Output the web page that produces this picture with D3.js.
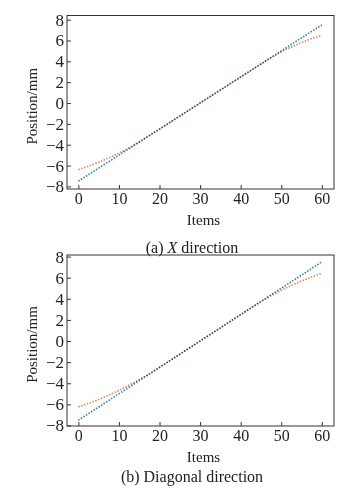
<!DOCTYPE html>
<html>
<head>
<meta charset="utf-8">
<script src="https://cdn.jsdelivr.net/npm/d3@7"></script>
<style>
  body { margin: 0; background: #fff; }
  text { font-family: "Liberation Serif", "Times New Roman", serif; fill: #222; }
</style>
</head>
<body>
<div class="chart"></div>
<script>
// item index 0..60
var items = d3.range(0, 61);

// measured position (blue), both directions
var measuredX = [-7.50,-7.25,-7.00,-6.75,-6.50,-6.25,-6.00,-5.75,-5.50,-5.25,-5.00,-4.75,-4.50,-4.25,-4.00,-3.75,-3.50,-3.25,-3.00,-2.75,
  -2.50,-2.25,-2.00,-1.75,-1.50,-1.25,-1.00,-0.75,-0.50,-0.25,0.00,0.25,0.50,0.75,1.00,1.25,1.50,1.75,2.00,2.25,
  2.50,2.75,3.00,3.25,3.50,3.75,4.00,4.25,4.50,4.75,5.00,5.25,5.50,5.75,6.00,6.25,6.50,6.75,7.00,7.25,7.50];
var fittedX = [-6.40,-6.27,-6.13,-5.99,-5.84,-5.68,-5.52,-5.35,-5.17,-4.99,-4.80,-4.60,-4.40,-4.18,-3.96,-3.73,-3.49,-3.25,-3.00,-2.75,
  -2.50,-2.25,-2.00,-1.75,-1.50,-1.25,-1.00,-0.75,-0.50,-0.25,0.00,0.25,0.50,0.75,1.00,1.25,1.50,1.75,2.00,2.25,
  2.50,2.75,3.00,3.25,3.50,3.75,4.00,4.24,4.47,4.69,4.90,5.10,5.29,5.47,5.64,5.80,5.96,6.11,6.25,6.38,6.50];

var measuredD = [-7.50,-7.25,-7.00,-6.75,-6.50,-6.25,-6.00,-5.75,-5.50,-5.25,-5.00,-4.75,-4.50,-4.25,-4.00,-3.75,-3.50,-3.25,-3.00,-2.75,
  -2.50,-2.25,-2.00,-1.75,-1.50,-1.25,-1.00,-0.75,-0.50,-0.25,0.00,0.25,0.50,0.75,1.00,1.25,1.50,1.75,2.00,2.25,
  2.50,2.75,3.00,3.25,3.50,3.75,4.00,4.25,4.50,4.75,5.00,5.25,5.50,5.75,6.00,6.25,6.50,6.75,7.00,7.25,7.50];
var fittedD = [-6.25,-6.12,-5.98,-5.84,-5.69,-5.54,-5.38,-5.21,-5.04,-4.86,-4.67,-4.48,-4.28,-4.07,-3.86,-3.65,-3.44,-3.22,-3.00,-2.75,
  -2.50,-2.25,-2.00,-1.75,-1.50,-1.25,-1.00,-0.75,-0.50,-0.25,0.00,0.25,0.50,0.75,1.00,1.25,1.50,1.75,2.00,2.25,
  2.50,2.75,3.00,3.25,3.49,3.72,3.95,4.17,4.39,4.60,4.80,4.99,5.17,5.35,5.52,5.68,5.84,5.99,6.13,6.27,6.40];

var xTicks = [0, 10, 20, 30, 40, 50, 60];
var yTicks = [-8, -6, -4, -2, 0, 2, 4, 6, 8];

var svg = d3.select(".chart")
  .append("svg")
  .attr("width", 363)
  .attr("height", 490);

function drawPanel(top, bottom, yDomain, blue, orange, capY, capLetter, capText) {
  var left = 67, right = 334;

  var x = d3.scaleLinear().domain([-2.8, 63]).range([left, right]);
  var y = d3.scaleLinear().domain(yDomain).range([bottom, top]);

  var g = svg.append("g");

  // frame
  g.append("rect")
    .attr("x", left).attr("y", top)
    .attr("width", right - left).attr("height", bottom - top)
    .attr("fill", "none").attr("stroke", "#333").attr("stroke-width", 1);

  // bottom axis, ticks pointing inward
  var xAxis = g.append("g")
    .attr("transform", `translate(0, ${bottom})`)
    .call(d3.axisBottom(x).tickValues(xTicks).tickSizeInner(-4).tickSizeOuter(0).tickPadding(4));
  xAxis.select(".domain").remove();
  xAxis.selectAll("line").attr("stroke", "#333");
  xAxis.selectAll("text").style("font-size", "16px").attr("fill", "#222");

  var yAxis = g.append("g")
    .attr("transform", `translate(${left}, 0)`)
    .call(d3.axisLeft(y).tickValues(yTicks).tickSizeInner(-4).tickSizeOuter(0).tickPadding(3));
  yAxis.select(".domain").remove();
  yAxis.selectAll("line").attr("stroke", "#333");
  yAxis.selectAll("text").style("font-size", "17px").attr("fill", "#222");

  var line = d3.line()
    .x((d, i) => x(items[i]))
    .y(d => y(d));

  g.append("path")
    .datum(blue)
    .attr("d", line)
    .attr("fill", "none")
    .attr("stroke", "#2f7fa3")
    .attr("stroke-width", 1.6)
    .attr("stroke-dasharray", "1.5,1.5");

  g.append("path")
    .datum(orange)
    .attr("d", line)
    .attr("fill", "none")
    .attr("stroke", "#d68c5c")
    .attr("stroke-width", 1.6)
    .attr("stroke-dasharray", "1.5,1.5")
    .style("mix-blend-mode", "multiply");

  // axis titles
  g.append("text")
    .attr("transform", `translate(37, ${(top + bottom) / 2 + 4}) rotate(-90)`)
    .attr("text-anchor", "middle")
    .style("font-size", "15px")
    .text("Position/mm");

  g.append("text")
    .attr("x", (left + right) / 2 + 3)
    .attr("y", bottom + 36)
    .attr("text-anchor", "middle")
    .style("font-size", "15px")
    .text("Items");

  var cap = g.append("text")
    .attr("x", 192)
    .attr("y", capY)
    .attr("text-anchor", "middle")
    .style("font-size", "16px");
  cap.append("tspan").text("(" + capLetter + ") ");
  if (capText[0]) cap.append("tspan").style("font-style", "italic").text(capText[0]);
  cap.append("tspan").text(capText[1]);
}

drawPanel(15.5, 189, [-8.25, 8.4], measuredX, fittedX, 253, "a", ["X", " direction"]);
drawPanel(255, 426, [-8.05, 8.15], measuredD, fittedD, 482, "b", ["", "Diagonal direction"]);
</script>
</body>
</html>
